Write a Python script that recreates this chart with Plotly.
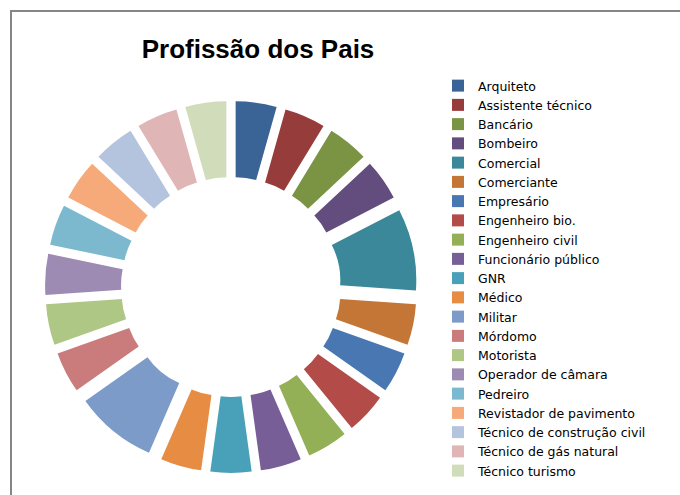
import plotly.graph_objects as go

categories = ["Arquiteto", "Assistente técnico", "Bancário", "Bombeiro", "Comercial",
              "Comerciante", "Empresário", "Engenheiro bio.", "Engenheiro civil",
              "Funcionário público", "GNR", "Médico", "Militar", "Mórdomo", "Motorista",
              "Operador de câmara", "Pedreiro", "Revistador de pavimento",
              "Técnico de construção civil", "Técnico de gás natural", "Técnico turismo"]
values = [1, 1, 1, 1, 2, 1, 1, 1, 1, 1, 1, 1, 2, 1, 1, 1, 1, 1, 1, 1, 1]
colors = ["#3B6496", "#963C3A", "#7A9444", "#634D7E", "#3A8899", "#C37636", "#4877B1",
          "#B34B48", "#93B056", "#785E97", "#48A1B9", "#E68C43", "#7C9BC8", "#C97C7B",
          "#AFC785", "#9D8BB3", "#7CB9CF", "#F6AA79", "#B5C4DE", "#DFB6B5", "#D0DCBA"]

W, H = 680, 495
cx, cy, R = 231, 287, 186

fig = go.Figure(go.Pie(
    labels=categories, values=values, sort=False, direction="clockwise", rotation=0,
    hole=0.5, pull=[0.224] * len(values),
    marker=dict(colors=colors, line=dict(width=0)),
    textinfo="none", hoverinfo="label+value",
    domain=dict(x=[(cx - R) / W, (cx + R) / W], y=[(H - cy - R) / H, (H - cy + R) / H]),
))

fig.update_layout(
    width=W, height=H, margin=dict(l=0, r=0, t=0, b=0, autoexpand=False),
    paper_bgcolor="white", plot_bgcolor="white",
    font=dict(family="DejaVu Sans, sans-serif", color="black"),
    title=dict(text="<b>Profissão dos Pais</b>", x=258 / W, y=1 - 49 / H,
               xanchor="center", yanchor="middle",
               font=dict(size=26, family="Liberation Sans, Arial, sans-serif", color="black")),
    legend=dict(x=438 / W, y=1 - 71 / H, xanchor="left", yanchor="top",
                font=dict(size=12.5, family="DejaVu Sans, sans-serif"),
                itemwidth=30, tracegroupgap=0, bgcolor="rgba(0,0,0,0)"),
    shapes=[dict(type="rect", xref="paper", yref="paper",
                 x0=11 / W, x1=1.05, y0=-0.05, y1=1 - 11 / H,
                 line=dict(color="#868686", width=2))],
)

fig.write_html("out.html")
